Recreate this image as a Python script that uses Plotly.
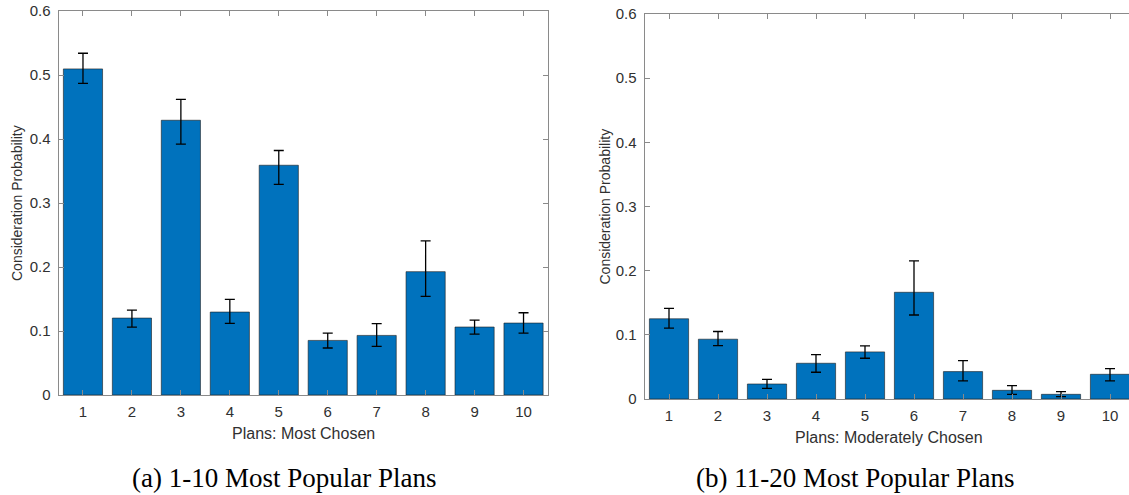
import plotly.graph_objects as go

W, H = 1129, 495

plans = [1, 2, 3, 4, 5, 6, 7, 8, 9, 10]
tick_labels = ["1", "2", "3", "4", "5", "6", "7", "8", "9", "10"]
y_ticks = [0, 0.1, 0.2, 0.3, 0.4, 0.5, 0.6]
y_tick_labels = ["0", "0.1", "0.2", "0.3", "0.4", "0.5", "0.6"]

# (a) 1-10 most popular plans
most_vals = [0.5095, 0.1202, 0.4293, 0.1296, 0.3590, 0.0853, 0.0931, 0.1927, 0.1062, 0.1124]
most_err_up = [0.0245, 0.0125, 0.0327, 0.0197, 0.0230, 0.0115, 0.0183, 0.0480, 0.0108, 0.0161]
most_err_down = [0.0225, 0.0140, 0.0373, 0.0177, 0.0300, 0.0119, 0.0171, 0.0385, 0.0110, 0.0156]

# (b) 11-20 most popular plans
mod_vals = [0.1250, 0.0932, 0.0234, 0.0557, 0.0734, 0.1663, 0.0427, 0.0135, 0.0073, 0.0385]
mod_err_up = [0.0161, 0.0120, 0.0073, 0.0136, 0.0094, 0.0490, 0.0172, 0.0073, 0.0042, 0.0089]
mod_err_down = [0.0146, 0.0099, 0.0067, 0.0140, 0.0099, 0.0354, 0.0146, 0.0062, 0.0037, 0.0104]

BAR = "#0072BD"
AX = "#8a8a8a"
TXT = "#303030"
SANS = "Liberation Sans, Arial, sans-serif"
SERIF = "Liberation Serif, Times New Roman, serif"

def px_x(p):
    return p / W

def px_y(p):
    return 1 - p / H

fig = go.Figure()

def bars(x, y, up, down, xa, ya):
    return go.Bar(
        x=x, y=y, xaxis=xa, yaxis=ya,
        marker=dict(color=BAR, line=dict(color="rgba(30,30,30,0.6)", width=1)),
        error_y=dict(type="data", symmetric=False, array=up, arrayminus=down,
                     color="black", thickness=1.3, width=5),
        showlegend=False,
    )

fig.add_trace(bars(plans, most_vals, most_err_up, most_err_down, "x", "y"))
fig.add_trace(bars(plans, mod_vals, mod_err_up, mod_err_down, "x2", "y2"))

tickfont = dict(family=SANS, size=15, color=TXT)

def xaxis_cfg(domain, rng, anchor):
    return dict(domain=domain, range=rng, anchor=anchor, automargin=False,
                tickvals=plans, ticktext=tick_labels, tickfont=tickfont,
                ticks="inside", ticklen=5, tickcolor=AX, tickwidth=1,
                showline=True, linecolor=AX, linewidth=1, mirror="ticks",
                showgrid=False, zeroline=False, ticklabelstandoff=3)

def yaxis_cfg(domain, anchor, mirror):
    return dict(domain=domain, range=[0, 0.6], anchor=anchor, automargin=False,
                tickvals=y_ticks, ticktext=y_tick_labels, tickfont=tickfont,
                ticks="inside", ticklen=5, tickcolor=AX, tickwidth=1,
                showline=True, linecolor=AX, linewidth=1, mirror=mirror,
                showgrid=False, zeroline=False, ticklabelstandoff=4)

left_x = [px_x(58.5), px_x(548)]
left_y = [px_y(395), px_y(11)]
right_x = [px_x(644.5), 1.0]
right_y = [px_y(399), px_y(14)]
right_range = [0.5, 0.5 + (W - 644.5) / 49.0]

fig.update_layout(
    width=W, height=H,
    margin=dict(l=0, r=0, t=0, b=0, pad=0, autoexpand=False),
    paper_bgcolor="white", plot_bgcolor="white",
    bargap=0.2,
    xaxis=xaxis_cfg(left_x, [0.5, 10.5], "y"),
    yaxis=yaxis_cfg(left_y, "x", "ticks"),
    xaxis2=xaxis_cfg(right_x, right_range, "y2"),
    yaxis2=yaxis_cfg(right_y, "x2", False),
)

ytitle_font = dict(family=SANS, size=14, color=TXT)
xtitle_font = dict(family=SANS, size=16, color=TXT)
cap_font = dict(family=SERIF, size=27, color="black")

annotations = [
    dict(text="Consideration Probability", x=px_x(17), y=px_y(203), textangle=-90, font=ytitle_font),
    dict(text="Consideration Probability", x=px_x(604), y=px_y(206.5), textangle=-90, font=ytitle_font),
    dict(text="Plans: Most Chosen", x=px_x(303), y=px_y(433), font=xtitle_font),
    dict(text="Plans: Moderately Chosen", x=px_x(889), y=px_y(437), font=xtitle_font),
    dict(text="(a) 1-10 Most Popular Plans", x=px_x(283.5), y=px_y(478), font=cap_font),
    dict(text="(b) 11-20 Most Popular Plans", x=px_x(855), y=px_y(478), font=cap_font),
]
for a in annotations:
    fig.add_annotation(xref="paper", yref="paper", xanchor="center", yanchor="middle",
                       showarrow=False, **a)

fig.write_html("out.html")
